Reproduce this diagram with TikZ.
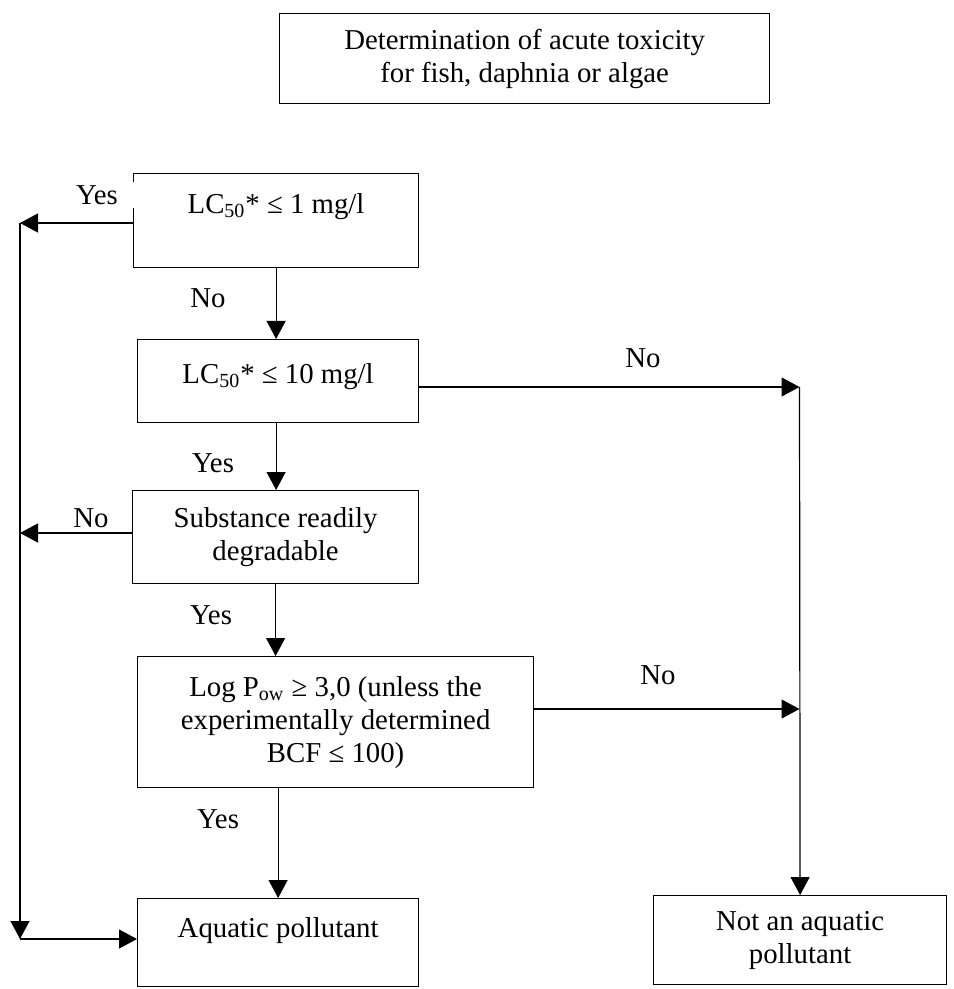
\documentclass[tikz,border=0pt]{standalone}
\usepackage{fontspec}
\setmainfont{Liberation Serif}
\usepackage{tikz}
\usetikzlibrary{positioning,%
  arrows.meta,%
  calc}

\begin{document}
\begin{tikzpicture}[x=0.5pt,y=-0.5pt,
    >={Triangle[length=9pt,width=9.5pt]},
    line width=0.6pt,
    font=\fontsize{14.4}{16.5}\selectfont,
    box/.style={draw,rectangle,align=center,inner sep=0pt,anchor=north west},
    answer/.style={fill=white,inner sep=1.5pt}]
            \useasboundingbox (0,0) rectangle (953,989);
            \node[box,minimum width=245pt,minimum height=45pt] (tox) at (279,13)
                {Determination of acute toxicity\\for fish, daphnia or algae};
            \node[box,minimum width=142.5pt,text height=20pt,text depth=27pt] (lc1) at (133,173)
                {LC\textsubscript{50}* ≤ 1 mg/l};
            \node[box,minimum width=140.5pt,text height=22pt,text depth=19.5pt] (lc10) at (137,339)
                {LC\textsubscript{50}* ≤ 10 mg/l};
            \node[box,minimum width=143pt,minimum height=46.5pt] (sub) at (132,490)
                {Substance readily\\degradable};
            \node[box,minimum width=198pt,minimum height=65.5pt] (log) at (137,656)
                {Log P\textsubscript{ow} ≥ 3,0 (unless the\\experimentally determined\\BCF ≤ 100)};
            \node[box,minimum width=140.5pt,text height=19.5pt,text depth=24.5pt] (aqua) at (137,898)
                {Aquatic pollutant};
            \node[box,minimum width=146.5pt,minimum height=44.5pt] (nap) at (653,895)
                {Not an aquatic\\pollutant};
            \coordinate (yes1) at (20,223);
            \coordinate (no3) at (20,533);
            \coordinate (rail) at (20,939);
            \coordinate (no2) at (799.5,387);
            \coordinate (no4) at (799.5,709);
            \draw[->] (lc1.west |- yes1) -- (yes1);
            \draw[->] (yes1) -- (rail);
            \draw[->] (rail) -- (rail -| aqua.west);
            \draw[->] (sub.west |- no3) -- (no3);
            \draw[->] (lc1.south) -- (lc1.south |- lc10.north);
            \draw[->] (lc1.south |- lc10.south) -- (lc1.south |- sub.north);
            \draw[->] (sub.south) -- (sub.south |- log.north);
            \draw[->] (aqua.north |- log.south) -- (aqua.north);
            \draw[->] (lc10.east |- no2) -- (no2);
            \draw[->] (no2) -- (nap.north);
            \draw[->] (log.east |- no4) -- (no4);
            \node[answer,minimum width=39pt] (ans1) at (97,195) {Yes};
            \node[answer] (ans2) at (208,298) {No};
            \node[answer] (ans3) at (213,463) {Yes};
            \node[answer] (ans4) at (91,518) {No};
            \node[answer] (ans5) at (211,615) {Yes};
            \node[answer] (ans6) at (218,819) {Yes};
            \node[answer] (ans7) at (643,358) {No};
            \node[answer] (ans8) at (658,675) {No};
        \end{tikzpicture}
\end{document}
